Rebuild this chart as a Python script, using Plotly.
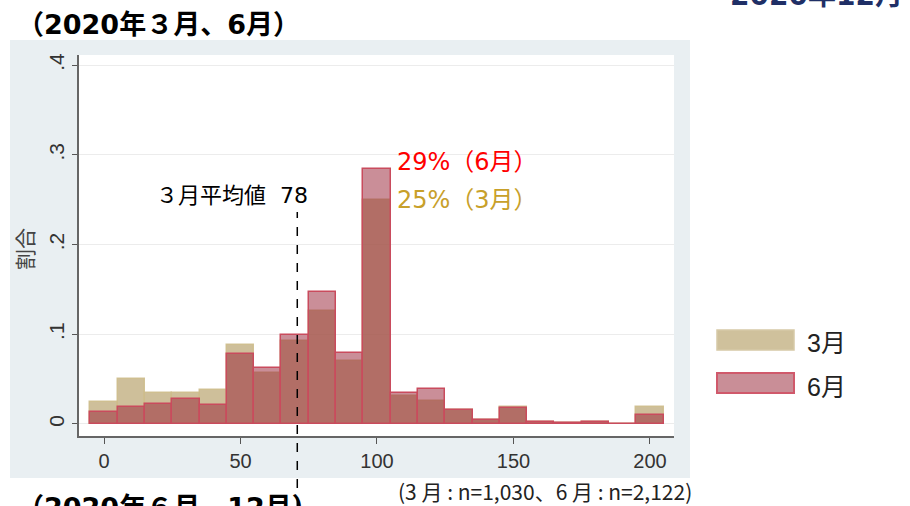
import plotly.graph_objects as go

# ---- data ----
bin_centers = [0, 10, 20, 30, 40, 50, 60, 70, 80, 90, 100, 110, 120, 130, 140, 150, 160, 170, 180, 190, 200]
share_mar = [0.025, 0.050, 0.034, 0.034, 0.038, 0.088, 0.0565, 0.092, 0.126, 0.070, 0.250,
             0.031, 0.026, 0.0155, 0.0045, 0.019, 0.0025, 0.001, 0.0025, 0.0005, 0.0186]
share_jun = [0.013, 0.019, 0.0225, 0.0275, 0.0215, 0.078, 0.062, 0.099, 0.147, 0.0795, 0.284,
             0.035, 0.039, 0.0155, 0.0045, 0.018, 0.0025, 0.001, 0.0025, 0.0005, 0.010]
series_names = ["3月", "6月"]
x_tick_vals = [0, 50, 100, 150, 200]
y_tick_vals = [0, 0.1, 0.2, 0.3, 0.4]
y_tick_text = ["0", ".1", ".2", ".3", ".4"]
mean_x = 70.8
mean_label = "３月平均値\u00a0\u00a078"
label_jun = "29%（6月）"
label_mar = "25%（3月）"
title_text = "（2020年３月、6月）"
title_next = "（2020年６月、12月）"
title_right = "2020年12月"
note_text = "(3 月 : n=1,030、6 月 : n=2,122)"
y_title = "割合"

# ---- geometry helpers (pixel -> paper) ----
W, H = 910, 506
L, R, T, B = 79, 236, 55, 70
PW, PH = W - L - R, H - T - B


def px(x):
    return (x - L) / PW


def py(y):
    return (H - B - y) / PH


WIDE = "DejaVu Sans, Noto Sans CJK JP, sans-serif"
CJK = "Liberation Sans, Noto Sans CJK JP, sans-serif"

fig = go.Figure()
fig.add_trace(go.Bar(
    x=bin_centers, y=share_mar, width=10, name=series_names[0], showlegend=False,
    marker=dict(color="rgba(190,170,120,0.75)", line=dict(color="rgba(205,188,140,0.9)", width=1.5)),
))
fig.add_trace(go.Bar(
    x=bin_centers, y=share_jun, width=10, name=series_names[1], showlegend=False,
    marker=dict(color="rgba(150,30,50,0.5)", line=dict(color="#c94b5d", width=1.5)),
))

shapes = [
    dict(type="rect", xref="paper", yref="paper", x0=px(10), x1=px(690), y0=py(478), y1=py(40),
         fillcolor="#e9eff2", line=dict(width=0), layer="below"),
    dict(type="rect", xref="paper", yref="paper", x0=0, x1=1, y0=0, y1=1,
         fillcolor="white", line=dict(width=0), layer="below"),
    dict(type="line", xref="x", yref="paper", x0=mean_x, x1=mean_x, y0=py(506), y1=py(212),
         line=dict(color="black", width=1.5, dash="dash")),
    dict(type="rect", xref="paper", yref="paper", x0=px(717), x1=px(794), y0=py(350), y1=py(330),
         fillcolor="#cfc19c", line=dict(color="#d6c9a6", width=1.5)),
    dict(type="rect", xref="paper", yref="paper", x0=px(717), x1=px(794), y0=py(393), y1=py(373),
         fillcolor="#c98e97", line=dict(color="#d0596b", width=2)),
]

annotations = [
    dict(text=title_text, x=px(15), y=py(25), xref="paper", yref="paper", xanchor="left", yanchor="middle",
         showarrow=False, font=dict(family=WIDE, size=27, color="black", weight="bold")),
    dict(text=title_next, x=px(15), y=py(507), xref="paper", yref="paper", xanchor="left", yanchor="middle",
         showarrow=False, font=dict(family=WIDE, size=27, color="black", weight="bold")),
    dict(text=title_right, x=px(728), y=py(-4), xref="paper", yref="paper", xanchor="left", yanchor="middle",
         showarrow=False, font=dict(family=WIDE, size=28, color="#1f2f66", weight="bold")),
    dict(text=note_text, x=px(396), y=py(491), xref="paper", yref="paper", xanchor="left", yanchor="middle",
         showarrow=False, font=dict(family="Liberation Sans Narrow, Noto Sans CJK JP", size=21, color="#222")),
    dict(text=mean_label, x=px(232), y=py(195), xref="paper", yref="paper", xanchor="center", yanchor="middle",
         showarrow=False, font=dict(family=WIDE, size=22, color="black")),
    dict(text=label_jun, x=px(395), y=py(162), xref="paper", yref="paper", xanchor="left", yanchor="middle",
         showarrow=False, font=dict(family=WIDE, size=24, color="#ff0000")),
    dict(text=label_mar, x=px(395), y=py(200), xref="paper", yref="paper", xanchor="left", yanchor="middle",
         showarrow=False, font=dict(family=WIDE, size=24, color="#c8a02a")),
    dict(text=y_title, x=px(24), y=py(249), xref="paper", yref="paper", xanchor="center", yanchor="middle",
         textangle=-90, showarrow=False, font=dict(family="Noto Sans CJK JP", size=21, color="#444")),
    dict(text=series_names[0], x=px(805), y=py(343), xref="paper", yref="paper", xanchor="left", yanchor="middle",
         showarrow=False, font=dict(family=CJK, size=25, color="#222")),
    dict(text=series_names[1], x=px(805), y=py(387), xref="paper", yref="paper", xanchor="left", yanchor="middle",
         showarrow=False, font=dict(family=CJK, size=25, color="#222")),
]

fig.update_layout(
    width=W, height=H,
    margin=dict(l=L, r=R, t=T, b=B, pad=0),
    paper_bgcolor="white", plot_bgcolor="white",
    barmode="overlay", bargap=0,
    shapes=shapes, annotations=annotations,
    font=dict(family=CJK, color="#333"),
)
fig.update_xaxes(
    range=[-9.16, 208.8], tickvals=x_tick_vals, ticks="outside", ticklen=6, tickcolor="#555",
    showline=True, linecolor="#666", linewidth=1.5, showgrid=False, zeroline=False,
    tickfont=dict(size=20, color="#333", family="Liberation Sans"),
)
fig.update_yaxes(
    range=[-0.0134, 0.4114], tickvals=y_tick_vals, ticktext=y_tick_text, tickangle=-90,
    ticks="outside", ticklen=5, tickcolor="#555",
    showline=True, linecolor="#666", linewidth=1.5, showgrid=True, gridcolor="#ececec", gridwidth=1,
    zeroline=False, tickfont=dict(size=21, color="#333", family="Liberation Sans"),
)

fig.write_html("out.html", config={"displayModeBar": False},
               post_script="document.body.style.margin='0';document.body.style.overflow='hidden';")
